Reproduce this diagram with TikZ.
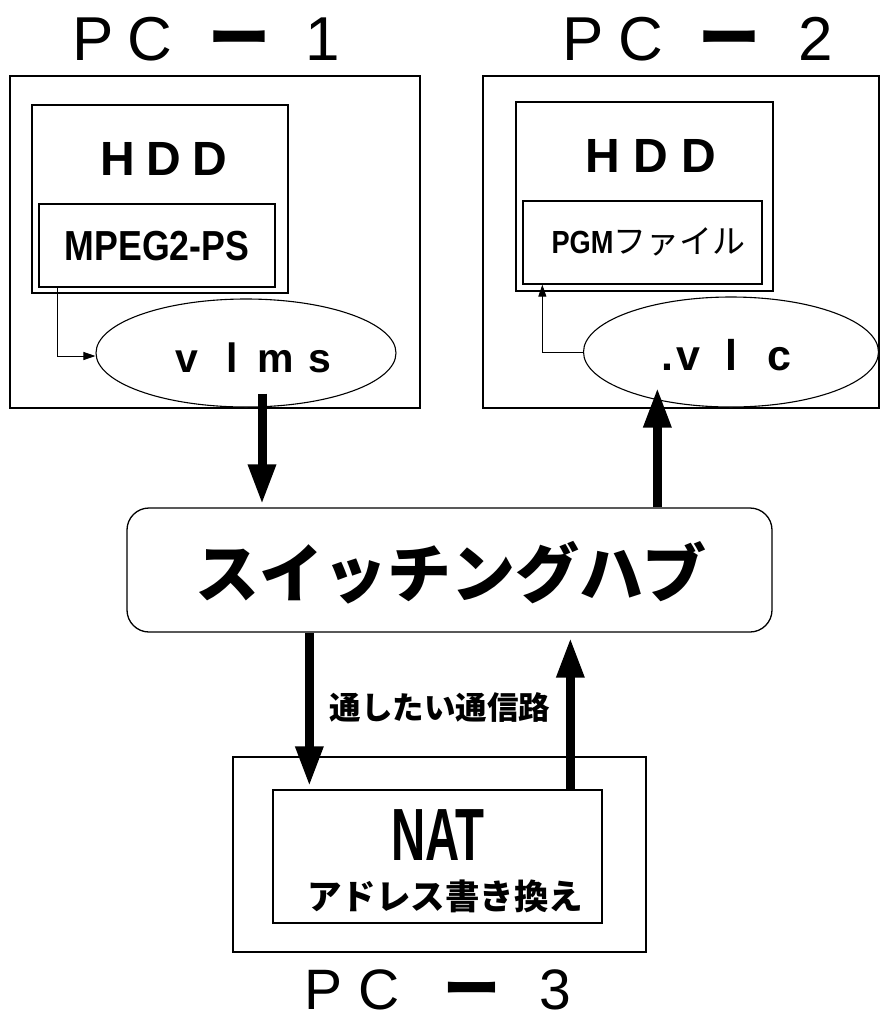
\documentclass[tikz,border=0pt]{standalone}
\usepackage{fontspec}
\setmainfont{Liberation Sans}
\newfontfamily\jp{Noto Sans CJK JP}
\newfontfamily\condfont[FakeStretch=0.85]{Liberation Sans}
\newfontfamily\natfont[FakeStretch=0.64]{Liberation Sans}
\usetikzlibrary{arrows.meta,calc,shapes.geometric}
\newcommand\spc[2]{\makebox[0pt][l]{\hspace*{#1pt}\makebox[0pt][c]{#2}}}
\newcommand\fs[1]{\fontsize{#1}{#1}\selectfont}
\newcommand\titlebar{\smash{\jp\bfseries ー}}
\begin{document}
\begin{tikzpicture}[x=1pt,y=-1pt,
  box/.style={draw,line width=1.3pt,rectangle,inner sep=0pt,fill=white},
  oval/.style={draw,line width=1.1pt,ellipse,inner sep=0pt,fill=white},
  txt/.style={inner sep=0pt,anchor=base},
  spaced/.style={inner sep=0pt,anchor=base west},
  bigarrow/.style={line width=9pt,-{Triangle[length=40pt,width=26pt]}},
  smallarrow/.style={line width=0.9pt,-{Triangle[length=12pt,width=8pt]}},
]
\useasboundingbox (0,0) rectangle (881,1021);

% PC-1
\node[box,minimum width=410,minimum height=332] (pc1) at (215,242) {};
\node[box,minimum width=256,minimum height=188] (hdd1) at (160,199) {};
\node[box,minimum width=236,minimum height=83] (mpeg) at (157,245.5) {};
\node[oval,minimum width=300,minimum height=108] (vlms) at (246,353) {};

% PC-2
\node[box,minimum width=396,minimum height=332] (pc2) at (681,242) {};
\node[box,minimum width=257,minimum height=189] (hdd2) at (644.5,196.5) {};
\node[box,minimum width=239,minimum height=83] (pgm) at (642.5,242.5) {};
\node[oval,minimum width=295,minimum height=110] (vlc) at (731,352) {};

% hub
\node[box,rounded corners=22pt,minimum width=645,minimum height=124] (hub) at (449.5,570) {};

% PC-3
\node[box,minimum width=413,minimum height=195] (pc3) at (439.5,854.5) {};
\node[box,minimum width=329,minimum height=133] (nat) at (437.5,856.5) {};

% titles
\node[spaced,font=\fs{62}] (t1) at (92,60) {\spc{0}{P}\spc{57}{C}\spc{147}{\titlebar}\spc{230}{1}};
\node[spaced,font=\fs{62}] (t2) at (582,60) {\spc{0}{P}\spc{58}{C}\spc{147}{\titlebar}\spc{233}{2}};
\node[spaced,font=\fs{57}] (t3) at (323,1009) {\spc{0}{P}\spc{55}{C}\spc{148}{\titlebar}\spc{232}{3}};

% HDD labels
\node[spaced,font=\bfseries\fs{48}] (h1) at (117,175) {\spc{0}{H}\spc{46}{D}\spc{92}{D}};
\node[spaced,font=\bfseries\fs{48}] (h2) at (602,172) {\spc{0}{H}\spc{48}{D}\spc{96}{D}};

% file labels
\node[txt,font=\condfont\bfseries\fs{42}] (mpegt) at (157,260) {MPEG2-PS};
\node[txt] (pgmt) at (648.5,253) {{\condfont\bfseries\fs{32}PGM}{\jp\fs{33}ファイル}};

% programs
\node[spaced,font=\bfseries\fs{41}] (vlmst) at (186,372) {\spc{0}{v}\spc{46}{l}\spc{89}{m}\spc{133}{s}};
\node[spaced,font=\bfseries\fs{43}] (vlct) at (667,370) {\spc{0}{.}\spc{21}{v}\spc{64}{l}\spc{112}{c}};

% hub / NAT texts
\node[txt,font=\jp\bfseries\fs{64}] (hubt) at (451,597) {スイッチングハブ};
\node[txt,font=\jp\bfseries\fs{31.5}] (route) at (440,719) {通したい通信路};
\node[txt,font=\natfont\bfseries\fs{74}] (natt) at (438,860) {NAT};
\node[txt,font=\jp\bfseries\fs{34.5}] (addr) at (445,909) {アドレス書き換え};

% thin connectors
\draw[smallarrow] ($(mpeg.south west)+(19,0)$) |- ($(vlms.west)+(0,3)$);
\draw[smallarrow] (vlc.west) -| ($(pgm.south west)+(20,0)$);

% thick connectors
\draw[bigarrow,shorten >=3pt] ($(vlms.south)+(16,-14)$) coordinate (a1s) -- (a1s |- hub.north);
\draw[bigarrow] ($(hub.north west)+(531,0)$) coordinate (a2s) -- ($(a2s |- vlc.south)+(0,-20)$);
\draw[bigarrow,shorten >=3pt] ($(hub.south west)+(183,0)$) coordinate (a3s) -- (a3s |- nat.north);
\draw[bigarrow,shorten >=5pt] ($(nat.north west)+(298,0)$) coordinate (a4s) -- (a4s |- hub.south);
\end{tikzpicture}
\end{document}
